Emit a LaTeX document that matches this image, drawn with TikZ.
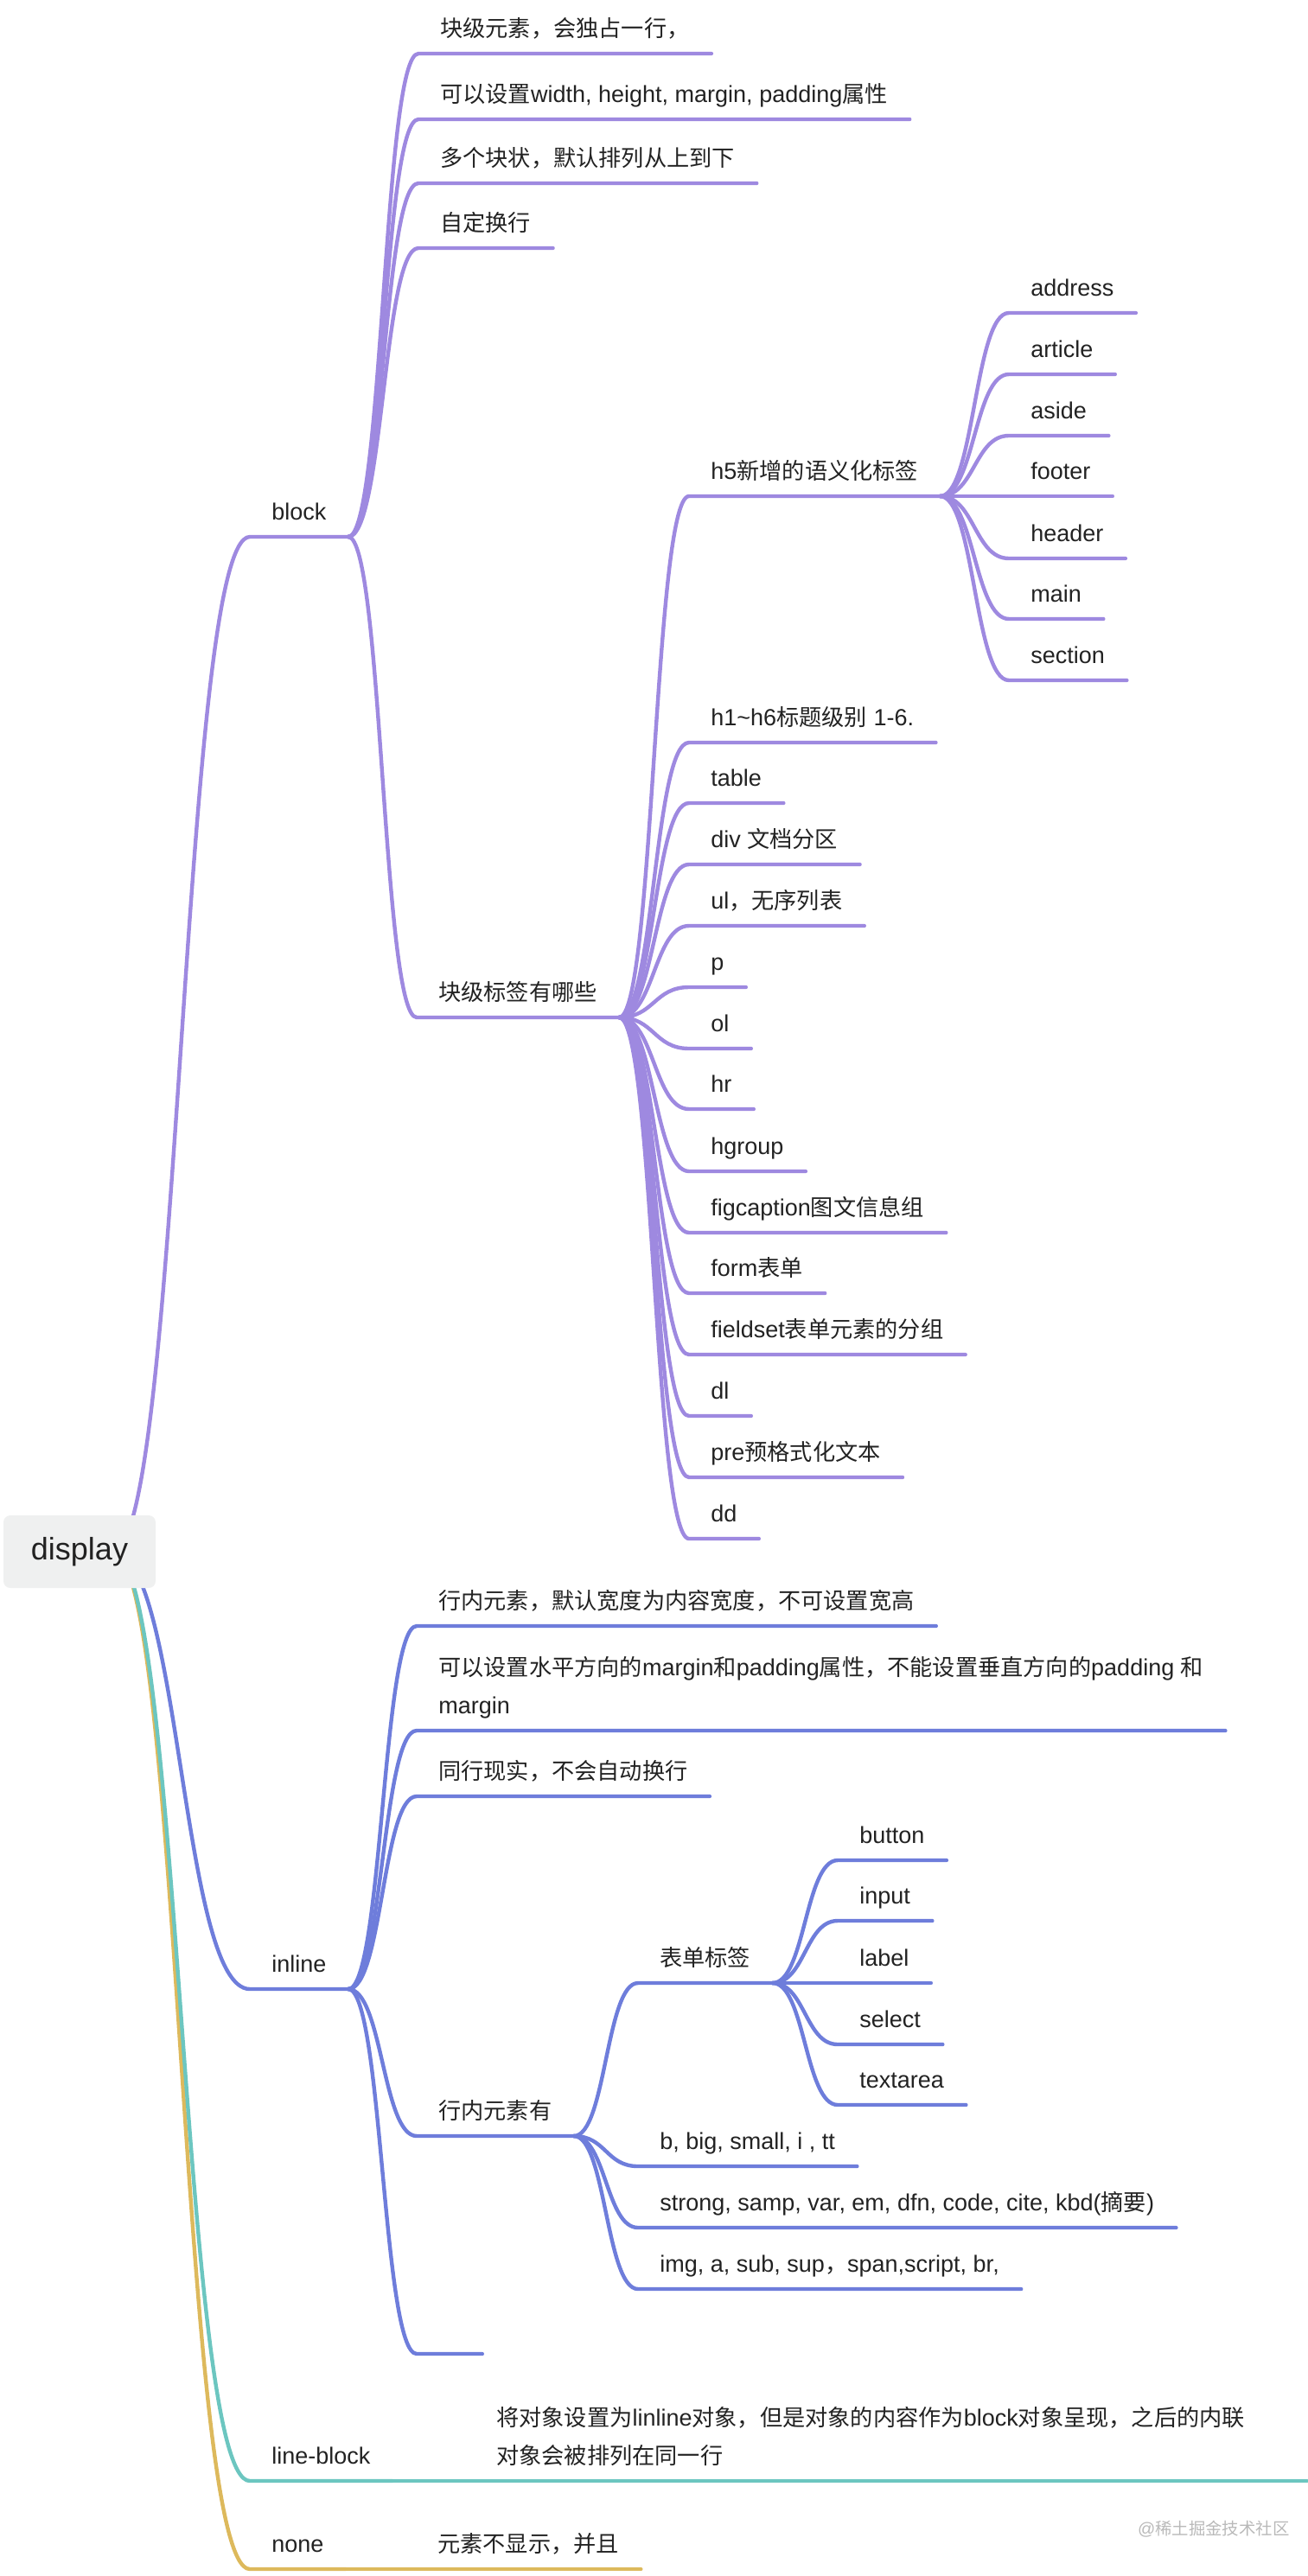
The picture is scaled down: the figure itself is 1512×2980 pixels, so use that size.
\documentclass[tikz,border=0pt]{standalone}
\usepackage{fontspec}
\setmainfont{Liberation Sans}
\newfontfamily\cjk{Noto Sans CJK SC}[Scale=0.97]
\newcommand\zh[1]{{\cjk #1}}
\usetikzlibrary{calc}

\definecolor{bpurple}{RGB}{158,137,224}
\definecolor{iblue}{RGB}{110,125,219}
\definecolor{lteal}{RGB}{108,198,192}
\definecolor{ngold}{RGB}{221,185,92}
\definecolor{txt}{RGB}{34,34,34}
\definecolor{rootfill}{RGB}{239,240,240}

\tikzset{
  item/.style={anchor=south west, inner xsep=12.5pt, inner ysep=4.5pt, text depth=5pt, text=txt, font=\fontsize{13.5pt}{22pt}\selectfont},
  root/.style={fill=rootfill, rounded corners=4pt, minimum width=88pt, minimum height=42pt, text=txt, font=\fontsize{18pt}{22pt}\selectfont},
  wmtext/.style={anchor=base west, text=gray!55, font=\fontsize{10pt}{12pt}\selectfont},
  branch/.style={to path={.. controls ($(\tikztostart)!.5!(\tikztostart -| \tikztotarget)$) and ($(\tikztotarget)!.5!(\tikztotarget -| \tikztostart)$) .. (\tikztotarget)}},
  purp/.style={draw=bpurple, line width=2.2pt, line cap=round, line join=round},
  blu/.style={draw=iblue, line width=2.2pt, line cap=round, line join=round},
  tea/.style={draw=lteal, line width=2.2pt, line cap=round, line join=round},
  gol/.style={draw=ngold, line width=2.2pt, line cap=round, line join=round}
}

\begin{document}
\begin{tikzpicture}[x=0.5pt,y=-0.5pt]
\useasboundingbox (0,0) rectangle (1512,2980);

\node[item] (block) at (289,621) {block};
\node[item] (inline) at (289,2301) {inline};
\node[item] (lineblk) at (289,2870) {line-block};
\node[item] (none) at (289,2972) {none};

\node[item] (b1) at (484,62) {\zh{块级元素，会独占一行，}};
\node[item] (b2) at (484,138) {\zh{可以设置}width, height, margin, padding\zh{属性}};
\node[item] (b3) at (484,212) {\zh{多个块状，默认排列从上到下}};
\node[item] (b4) at (484,287) {\zh{自定换行}};
\node[item] (tags) at (482,1177) {\zh{块级标签有哪些}};

\node[item] (h5) at (797,574) {h5\zh{新增的语义化标签}};
\node[item] (h16) at (797,859) {h1\textasciitilde h6\zh{标题级别} 1-6.};
\node[item] (ttable) at (797,929) {table};
\node[item] (tdiv) at (797,1000) {div \zh{文档分区}};
\node[item] (tul) at (797,1071) {ul\zh{，无序列表}};
\node[item] (tp) at (797,1142) {p};
\node[item] (tol) at (797,1213) {ol};
\node[item] (thr) at (797,1283) {hr};
\node[item] (thgroup) at (797,1355) {hgroup};
\node[item] (tfig) at (797,1426) {figcaption\zh{图文信息组}};
\node[item] (tform) at (797,1496) {form\zh{表单}};
\node[item] (tfield) at (797,1567) {fieldset\zh{表单元素的分组}};
\node[item] (tdl) at (797,1638) {dl};
\node[item] (tpre) at (797,1709) {pre\zh{预格式化文本}};
\node[item] (tdd) at (797,1780) {dd};

\node[item] (address) at (1167,362) {address};
\node[item] (article) at (1167,433) {article};
\node[item] (aside) at (1167,504) {aside};
\node[item] (footer) at (1167,574) {footer};
\node[item] (header) at (1167,646) {header};
\node[item] (main) at (1167,716) {main};
\node[item] (section) at (1167,787) {section};

\node[item] (i1) at (482,1881) {\zh{行内元素，默认宽度为内容宽度，不可设置宽高}};
\node[item, align=left] (i2) at (482,2002) {\zh{可以设置水平方向的}margin\zh{和}padding\zh{属性，不能设置垂直方向的}padding \zh{和}\\margin};
\node[item] (i3) at (482,2078) {\zh{同行现实，不会自动换行}};
\node[item] (ihas) at (482,2471) {\zh{行内元素有}};
\node[item, minimum width=37.5pt] (iend) at (482,2723) {};

\node[item] (formtag) at (738,2294) {\zh{表单标签}};
\node[item] (bbig) at (738,2506) {b, big, small, i , tt};
\node[item] (strong) at (738,2577) {strong, samp, var, em, dfn, code, cite, kbd(\zh{摘要})};
\node[item] (img) at (738,2648) {img, a, sub, sup\zh{，}span,script, br,};

\node[item] (button) at (969,2152) {button};
\node[item] (input) at (969,2222) {input};
\node[item] (label) at (969,2294) {label};
\node[item] (select) at (969,2365) {select};
\node[item] (textarea) at (969,2435) {textarea};

\node[item, align=left] (lbdesc) at (549,2870) {\zh{将对象设置为}linline\zh{对象，但是对象的内容作为}block\zh{对象呈现，之后的内联}\\\zh{对象会被排列在同一行}};
\coordinate (lbend) at (1512,2870);
\node[item] (nonedesc) at (481,2972) {\zh{元素不显示，并且}};

\node[wmtext] (wm) at (1309,2932) {@\zh{稀土掘金技术社区}};

\coordinate (hub) at (130,1795);

\draw[gol] (hub) to[branch] (none.south west) -- (none.south east);
\draw[tea] (hub) to[branch] (lineblk.south west) -- (lineblk.south east);
\draw[blu] (hub) to[branch] (inline.south west) -- (inline.south east);
\draw[purp] (hub) to[branch] (block.south west) -- (block.south east);

\draw[purp] (block.south east) to[branch] (b1.south west) -- (b1.south east);
\draw[purp] (block.south east) to[branch] (b2.south west) -- (b2.south east);
\draw[purp] (block.south east) to[branch] (b3.south west) -- (b3.south east);
\draw[purp] (block.south east) to[branch] (b4.south west) -- (b4.south east);
\draw[purp] (block.south east) to[branch] (tags.south west) -- (tags.south east);

\draw[purp] (tags.south east) to[branch] (h5.south west) -- (h5.south east);
\draw[purp] (tags.south east) to[branch] (h16.south west) -- (h16.south east);
\draw[purp] (tags.south east) to[branch] (ttable.south west) -- (ttable.south east);
\draw[purp] (tags.south east) to[branch] (tdiv.south west) -- (tdiv.south east);
\draw[purp] (tags.south east) to[branch] (tul.south west) -- (tul.south east);
\draw[purp] (tags.south east) to[branch] (tp.south west) -- (tp.south east);
\draw[purp] (tags.south east) to[branch] (tol.south west) -- (tol.south east);
\draw[purp] (tags.south east) to[branch] (thr.south west) -- (thr.south east);
\draw[purp] (tags.south east) to[branch] (thgroup.south west) -- (thgroup.south east);
\draw[purp] (tags.south east) to[branch] (tfig.south west) -- (tfig.south east);
\draw[purp] (tags.south east) to[branch] (tform.south west) -- (tform.south east);
\draw[purp] (tags.south east) to[branch] (tfield.south west) -- (tfield.south east);
\draw[purp] (tags.south east) to[branch] (tdl.south west) -- (tdl.south east);
\draw[purp] (tags.south east) to[branch] (tpre.south west) -- (tpre.south east);
\draw[purp] (tags.south east) to[branch] (tdd.south west) -- (tdd.south east);

\draw[purp] (h5.south east) to[branch] (address.south west) -- (address.south east);
\draw[purp] (h5.south east) to[branch] (article.south west) -- (article.south east);
\draw[purp] (h5.south east) to[branch] (aside.south west) -- (aside.south east);
\draw[purp] (h5.south east) to[branch] (footer.south west) -- (footer.south east);
\draw[purp] (h5.south east) to[branch] (header.south west) -- (header.south east);
\draw[purp] (h5.south east) to[branch] (main.south west) -- (main.south east);
\draw[purp] (h5.south east) to[branch] (section.south west) -- (section.south east);

\draw[blu] (inline.south east) to[branch] (i1.south west) -- (i1.south east);
\draw[blu] (inline.south east) to[branch] (i2.south west) -- (i2.south east);
\draw[blu] (inline.south east) to[branch] (i3.south west) -- (i3.south east);
\draw[blu] (inline.south east) to[branch] (ihas.south west) -- (ihas.south east);
\draw[blu] (inline.south east) to[branch] (iend.south west) -- (iend.south east);

\draw[blu] (ihas.south east) to[branch] (formtag.south west) -- (formtag.south east);
\draw[blu] (ihas.south east) to[branch] (bbig.south west) -- (bbig.south east);
\draw[blu] (ihas.south east) to[branch] (strong.south west) -- (strong.south east);
\draw[blu] (ihas.south east) to[branch] (img.south west) -- (img.south east);

\draw[blu] (formtag.south east) to[branch] (button.south west) -- (button.south east);
\draw[blu] (formtag.south east) to[branch] (input.south west) -- (input.south east);
\draw[blu] (formtag.south east) to[branch] (label.south west) -- (label.south east);
\draw[blu] (formtag.south east) to[branch] (select.south west) -- (select.south east);
\draw[blu] (formtag.south east) to[branch] (textarea.south west) -- (textarea.south east);

\draw[tea] (lineblk.south east) -- (lbdesc.south west) -- (lbend);
\draw[gol] (none.south east) -- (nonedesc.south west) -- (nonedesc.south east);

\node[root] (display) at (92,1795) {display};
\end{tikzpicture}
\end{document}
